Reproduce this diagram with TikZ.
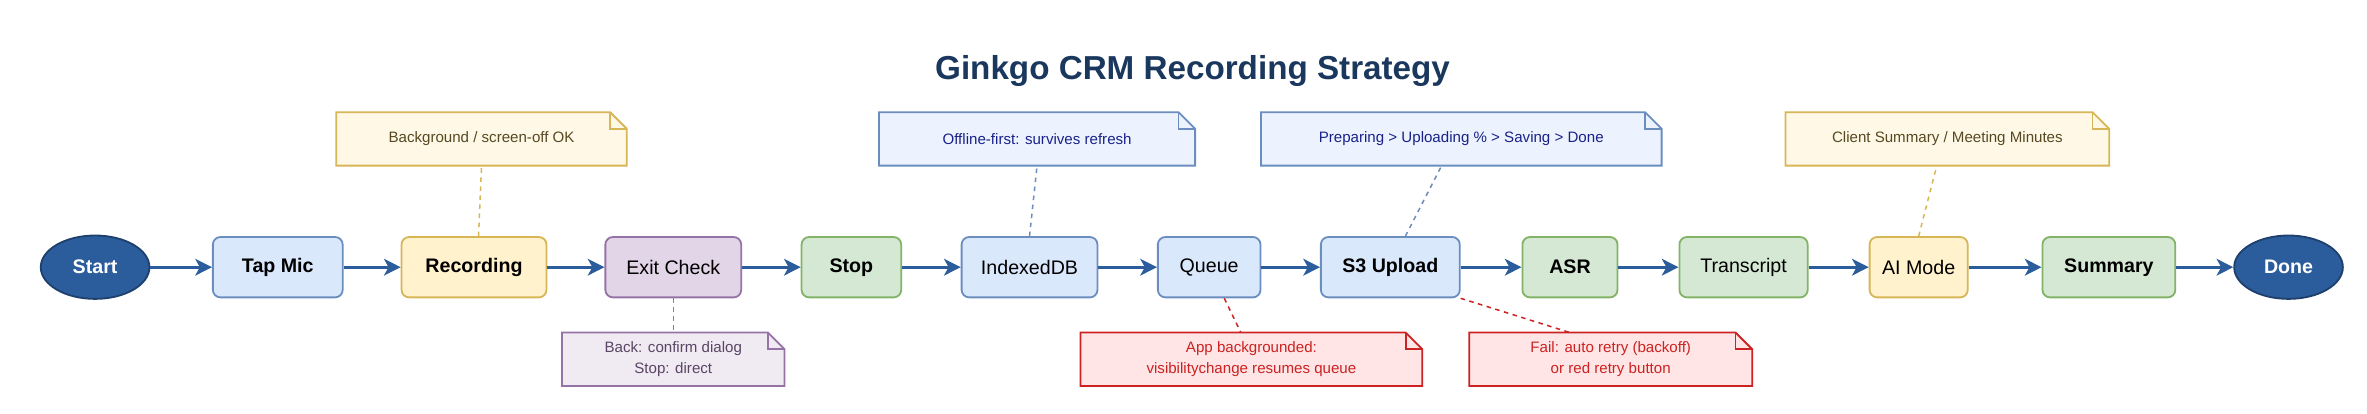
\documentclass[tikz,border=0pt]{standalone}
\usepackage{fontspec}
\setmainfont{Liberation Sans}
\usetikzlibrary{shapes.geometric,arrows.meta}
\definecolor{flow}{HTML}{2B5C9B}
\definecolor{bluefill}{HTML}{DAE8FC}\definecolor{blueline}{HTML}{6C8EBF}
\definecolor{yelfill}{HTML}{FFF2CC}\definecolor{yelline}{HTML}{D6B656}
\definecolor{purfill}{HTML}{E1D5E7}\definecolor{purline}{HTML}{9673A6}
\definecolor{grnfill}{HTML}{D5E8D4}\definecolor{grnline}{HTML}{82B366}
\definecolor{redline}{HTML}{CC2222}
\tikzset{
    stepbox/.style={draw,rounded corners=5pt,line width=1.2pt,minimum height=40pt,
        font=\fontsize{13}{15}\selectfont,text=black},
    blue/.style={stepbox,fill=bluefill,draw=blueline},
    yel/.style={stepbox,fill=yelfill,draw=yelline},
    pur/.style={stepbox,fill=purfill,draw=purline},
    grn/.style={stepbox,fill=grnfill,draw=grnline},
    term/.style={ellipse,fill=flow,draw=flow!70!black,line width=1.2pt,text=white,
        minimum width=72pt,minimum height=42pt,font=\bfseries\fontsize{13}{15}\selectfont},
    flowarrow/.style={-{Stealth[length=11pt,width=11pt,inset=3pt]},line width=2pt,draw=flow},
    note/.style={minimum height=35pt,align=center,inner sep=0pt,
        font=\fontsize{10}{14}\selectfont},
    link/.style={dashed,line width=1pt}
}
\begin{document}
\begin{tikzpicture}[x=1pt,y=-1pt]
            \useasboundingbox (0,0) rectangle (1568,274);
            \node[font=\bfseries\fontsize{22}{26}\selectfont,text=flow!60!black] (title) at (790,47) {Ginkgo CRM Recording Strategy};
            \node[term] (start) at (63,177) {Start};
            \node[term] (done) at (1516,177) {Done};
            \foreach \n/\x/\w/\s/\t in {tap/184/86/blue/{\bfseries Tap Mic},rec/314/96/yel/{\bfseries Recording},
                exit/446/90/pur/{Exit Check},stop/564/66/grn/{\bfseries Stop},idb/682/90/blue/{IndexedDB},
                queue/801/68/blue/{Queue},s3/921/92/blue/{\bfseries S3 Upload},asr/1040/63/grn/{\bfseries ASR},
                trans/1155/85/grn/{Transcript},ai/1271/65/yel/{AI Mode},sum/1397/88/grn/{\bfseries Summary}}
            {
                \node[\s,minimum width=\w pt] (\n) at (\x,177) {\t};
            }
            \foreach \a/\b in {start/tap,tap/rec,rec/exit,exit/stop,stop/idb,idb/queue,queue/s3,
                s3/asr,asr/trans,trans/ai,ai/sum,sum/done}
            {
                \draw[flowarrow] (\a) -- (\b);
            }
            % notes: name / centre / width / fill / line / text colour / text
            \foreach \n/\x/\y/\w/\f/\l/\c/\t in {
                nbg/319/92/192/yelfill!50/yelline/yelline!40!black/{Background / screen-off OK},
                noff/687/92/209/bluefill!50/blueline/blueline!40!blue!60!black/{Offline-first: survives refresh},
                nup/968/92/265/bluefill!50/blueline/blueline!40!blue!60!black/{Preparing > Uploading \% > Saving > Done},
                nai/1290/92/214/yelfill!50/yelline/yelline!40!black/{Client Summary / Meeting Minutes},
                nexit/446/238/147/purfill!50/purline/purline!60!black/{Back: confirm dialog\\Stop: direct},
                nq/829/238/226/red!10/redline/redline/{App backgrounded:\\visibilitychange resumes queue},
                nfail/1067/238/187/red!10/redline/redline/{Fail: auto retry (backoff)\\or red retry button}}
            {
                \node[note,minimum width=\w pt] (\n) at (\x,\y) {};
                \filldraw[fill=\f,draw=\l,line width=1.2pt] (\n.north west) -- ([xshift=-11pt]\n.north east)
                    -- ([yshift=-11pt]\n.north east) -- (\n.south east) -- (\n.south west) -- cycle;
                \draw[\l,line width=1.2pt] ([xshift=-11pt]\n.north east) -- ([xshift=-11pt,yshift=-11pt]\n.north east)
                    -- ([yshift=-11pt]\n.north east);
                \node[note,text=\c] at (\x,\y) {\t};
            }
            \draw[link,yelline] ([xshift=3pt]rec.north) -- (nbg.south);
            \draw[link,blueline] (idb.north) -- (noff.south);
            \draw[link,blueline] ([xshift=10pt]s3.north) -- ([xshift=-13pt]nup.south);
            \draw[link,yelline] (ai.north) -- ([xshift=-7pt]nai.south);
            \draw[link,purline] (exit.south) -- (nexit.north);
            \draw[link,redline] ([xshift=10pt]queue.south) -- ([xshift=-7pt]nq.north);
            \draw[link,redline,dash pattern=on 3pt off 3pt] (s3.south east) -- ([xshift=-27pt]nfail.north);
\end{tikzpicture}
\end{document}
